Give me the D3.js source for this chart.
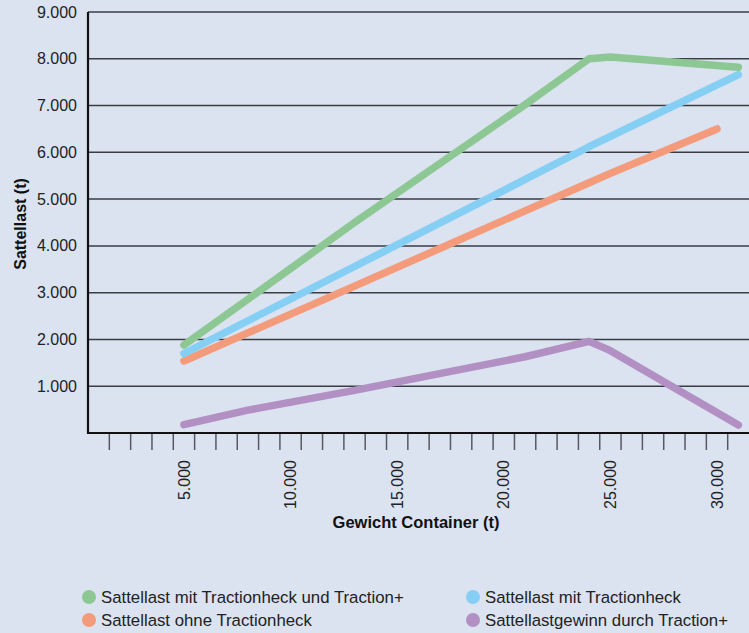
<!DOCTYPE html>
<html><head><meta charset="utf-8">
<script src="https://cdn.jsdelivr.net/npm/d3@7"></script>
<style>
html,body{margin:0;padding:0;background:#dbe3f1;}
svg{display:block;font-family:"Liberation Sans",Arial,Helvetica,sans-serif;}
</style></head>
<body>
<svg id="chart" width="749" height="633"></svg>
<script>
// Data (x = Gewicht Container in kg, y = Sattellast)
const xValues = [5000, 8000, 13000, 21000, 24000, 25000, 31000];
const seriesNames = [
  "Sattellast mit Tractionheck und Traction+",
  "Sattellast mit Tractionheck",
  "Sattellast ohne Tractionheck",
  "Sattellastgewinn durch Traction+"
];
const greenValues  = [1880, 2860, 4500, 7020, 8000, 8040, 7820];
const blueValues   = [1700, 2400, 3560, 5420, 6120, 6340, 7660];
const orangeX      = [5000, 8000, 13000, 21000, 24000, 25000, 30000];
const orangeValues = [1540, 2140, 3140, 4750, 5350, 5550, 6500];
const purpleValues = [180, 490, 910, 1630, 1960, 1760, 170];
const colors = ["#8dc894", "#86cff4", "#f49b7c", "#b290c3"];
const yTicks = [1000, 2000, 3000, 4000, 5000, 6000, 7000, 8000, 9000];
const xLabelTicks = [5000, 10000, 15000, 20000, 25000, 30000];
const xMinorTicks = d3.range(1500, 31000, 1000);

(function () {
const svg = d3.select("#chart");
const mLeft = 88, mRight = 749, mTop = 12, mBottom = 433;

const x = d3.scaleLinear().domain([500, 31500]).range([mLeft, mRight]);
const y = d3.scaleLinear().domain([0, 9000]).range([mBottom, mTop]);
const fmt = v => d3.format(",")(v).replace(/,/g, ".");

// gridlines
svg.append("g").selectAll("line").data(yTicks).join("line")
  .attr("x1", mLeft).attr("x2", mRight)
  .attr("y1", d => y(d)).attr("y2", d => y(d))
  .attr("stroke", "#3a3d44").attr("stroke-width", 1.5);

// y tick labels
svg.append("g").selectAll("text").data(yTicks).join("text")
  .attr("x", 77).attr("y", d => y(d)).attr("dy", "0.35em")
  .attr("text-anchor", "end").attr("font-size", 16).attr("fill", "#222")
  .text(fmt);

// x minor ticks
svg.append("g").selectAll("line").data(xMinorTicks).join("line")
  .attr("x1", d => x(d)).attr("x2", d => x(d))
  .attr("y1", mBottom).attr("y2", 450)
  .attr("stroke", "#555a62").attr("stroke-width", 1.5);

// x labels rotated
svg.append("g").selectAll("text").data(xLabelTicks).join("text")
  .attr("transform", d => `translate(${x(d)},460) rotate(-90)`)
  .attr("text-anchor", "end").attr("dy", "0.35em")
  .attr("font-size", 16).attr("fill", "#222")
  .text(fmt);

// axes lines
svg.append("line").attr("x1", mLeft).attr("x2", mLeft).attr("y1", mTop).attr("y2", mBottom + 1)
  .attr("stroke", "#111").attr("stroke-width", 2.2);
svg.append("line").attr("x1", mLeft - 1).attr("x2", mRight).attr("y1", mBottom).attr("y2", mBottom)
  .attr("stroke", "#111").attr("stroke-width", 2.2);

// axis titles
svg.append("text").attr("x", 416).attr("y", 528).attr("text-anchor", "middle")
  .attr("font-size", 16.5).attr("font-weight", "bold").attr("fill", "#111")
  .text("Gewicht Container (t)");
svg.append("text").attr("transform", "translate(26,224) rotate(-90)")
  .attr("text-anchor", "middle").attr("font-size", 16).attr("font-weight", "bold").attr("fill", "#111")
  .text("Sattellast (t)");

// lines
const line = d3.line().x(d => x(d[0])).y(d => y(d[1]));
const series = [
  d3.zip(xValues, greenValues),
  d3.zip(xValues, blueValues),
  d3.zip(orangeX, orangeValues),
  d3.zip(xValues, purpleValues)
];
const drawOrder = [3, 2, 1, 0];
svg.append("g").selectAll("path").data(drawOrder).join("path")
  .attr("d", i => line(series[i]))
  .attr("fill", "none").attr("stroke", i => colors[i])
  .attr("stroke-width", 7.5).attr("stroke-linecap", "round").attr("stroke-linejoin", "round");

// legend
const legendPos = [[89, 597], [473, 597], [89, 620], [473, 620]];
const lg = svg.append("g").selectAll("g").data([0, 1, 2, 3]).join("g")
  .attr("transform", i => `translate(${legendPos[i][0]},${legendPos[i][1]})`);
lg.append("circle").attr("r", 7).attr("fill", i => colors[i]);
lg.append("text").attr("x", 12).attr("dy", "0.35em").attr("font-size", 16.8).attr("fill", "#222")
  .text(i => seriesNames[i]);
})();
</script>
</body></html>
